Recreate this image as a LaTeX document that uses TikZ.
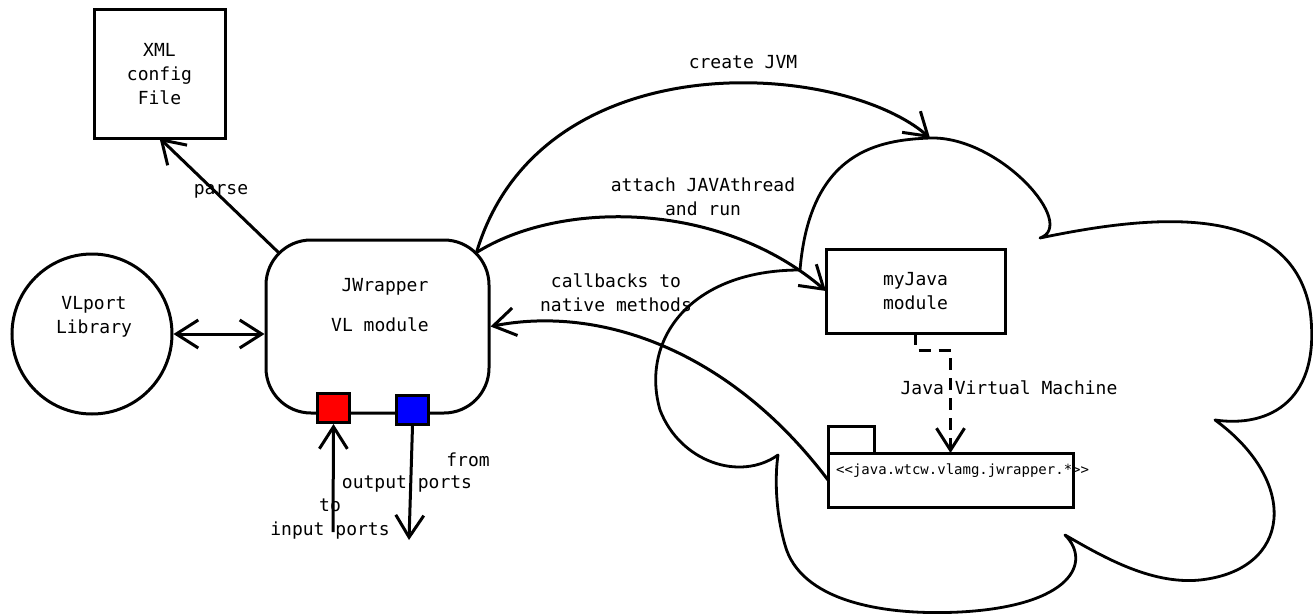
\documentclass[tikz,border=0pt]{standalone}
\usepackage{fontspec}
\setmainfont{DejaVu Sans Mono}
\usepackage{tikz}
\usetikzlibrary{arrows.meta,positioning,calc}
\tikzset{
  box/.style={draw, line width=3pt, align=center, inner sep=0pt, outer sep=0pt},
  lib/.style={draw, circle, line width=3pt, minimum size=160pt, inner sep=0pt},
  wrapper/.style={draw, rounded corners=45pt, line width=3pt, minimum width=223pt, minimum height=173pt, inner sep=0pt},
  port/.style={draw, line width=3pt, minimum width=32pt, minimum height=29pt, inner sep=0pt},
  lbl/.style={align=center, inner sep=0pt},
  small/.style={font=\fontsize{14}{16}\selectfont, inner sep=0pt},
  arrow/.style={-{Straight Barb[length=22pt,width=28pt]}, line width=3pt},
  dblarrow/.style={{Straight Barb[length=22pt,width=28pt]}-{Straight Barb[length=22pt,width=28pt]}, line width=3pt},
  dasharrow/.style={arrow, dash pattern=on 12pt off 8pt},
  cloud/.style={draw, line width=2.8pt, line join=round}
}

\begin{document}
\begin{tikzpicture}[x=1pt, y=-1pt, font=\fontsize{18}{24}\selectfont]
  \useasboundingbox (0,0) rectangle (1313,615);

  % JVM cloud
  \draw[cloud] (800,270) .. controls (810,150) and (880,140) .. (930,138)
    .. controls (1000,136) and (1078,225) .. (1040,238)
    .. controls (1150,215) and (1290,200) .. (1310,310)
    .. controls (1322,400) and (1270,428) .. (1215,420)
    .. controls (1300,482) and (1292,570) .. (1200,580)
    .. controls (1150,585) and (1100,555) .. (1065,535)
    .. controls (1092,562) and (1072,606) .. (960,612)
    .. controls (880,616) and (800,600) .. (785,545)
    .. controls (775,510) and (775,475) .. (778,455)
    .. controls (740,482) and (680,462) .. (660,410)
    .. controls (640,340) and (690,270) .. (800,270);
  \coordinate (jvmtop) at (930,138);
  \node[lbl] (jvmlabel) at (1009,388) {Java Virtual Machine};

  \node[box, minimum width=131pt, minimum height=128pt] (xml) at (159.5,74) {XML\\config\\File};
  \node[lib] (vlport) at (92,334) {};
  \node[lbl] (vlporttext) at (94,317) {VLport\\Library};

  \node[wrapper] (jwrapper) at (377.5,326.5) {};
  \node[lbl] (jwtitle) at (385,287) {JWrapper};
  \node[lbl] (jwsub) at (380,325) {VL module};
  \node[port, fill=red] (inport) at (333.5,408) {};
  \node[port, fill=blue] (outport) at (412.5,410) {};

  \node[box, minimum width=179pt, minimum height=84pt] (myjava) at (915.5,291) {myJava\\module};
  \node[box, minimum width=245pt, minimum height=54pt] (pkg) at (950.5,480) {};
  \node[box, minimum width=46pt, minimum height=27pt, above right=0pt and 0pt of pkg.north west] (pkgtab) {};
  \node[small, anchor=west] (pkgname) at (836,471) {<{}<java.wtcw.vlamg.jwrapper.*>{}>};

  \coordinate (inend) at (333,532);
  \coordinate (outend) at (409,540);

  \draw[arrow] ($(jwrapper.north west)+(14,14)$) -- (xml.south);
  \node[lbl] (parselbl) at (221,191) {parse};
  \draw[dblarrow] (vlport.east) -- (vlport.east -| jwrapper.west);

  \draw[arrow] (inend) -- (inport.south);
  \node[lbl] (inlbl) at (330,519) {to\\input ports};
  \draw[arrow] (outport.south) -- (outend);
  \node[lbl] (fromlbl) at (468,460) {from};
  \node[lbl] (outlbl) at (407,484) {output ports};

  \draw[arrow] ($(jwrapper.north east)+(-14,14)$) .. controls (540,40) and (840,60) .. (jvmtop);
  \node[lbl] (createlbl) at (743,62) {create JVM};
  \draw[arrow] ($(jwrapper.north east)+(-14,14)$) .. controls (560,200) and (720,200) .. (myjava.west);
  \node[lbl] (attachlbl) at (703,197) {attach JAVAthread\\and run};
  \draw[arrow] (pkg.west) .. controls (730,350) and (600,305) .. (jwrapper.east);
  \node[lbl] (cblbl) at (616,293) {callbacks to\\native methods};

  \draw[dasharrow] (myjava.south) -- ++(0,17) -| (pkg.north);
\end{tikzpicture}
\end{document}
